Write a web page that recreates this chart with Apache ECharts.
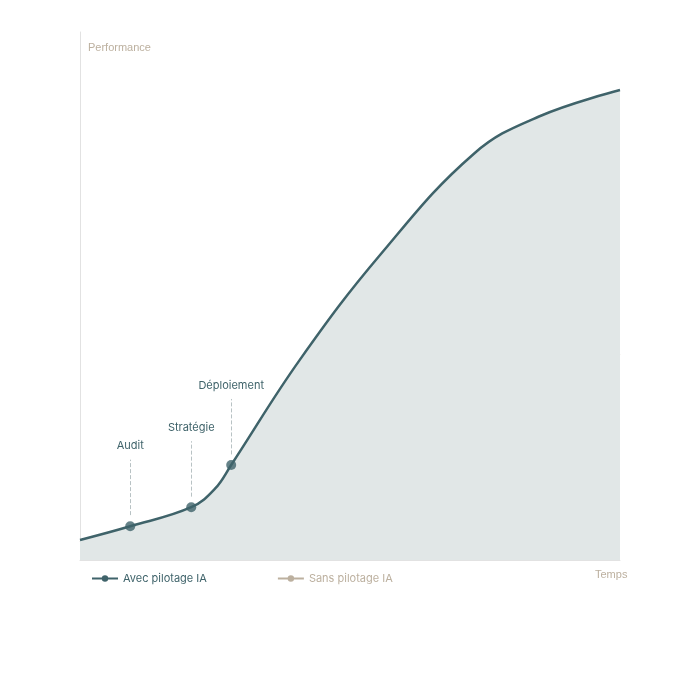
<!DOCTYPE html>
<html>
<head>
<meta charset="utf-8">
<script src="https://cdn.jsdelivr.net/npm/echarts@6/dist/echarts.min.js"></script>
<style>html,body{margin:0;background:#fff}#c{width:680px;height:680px}</style>
</head>
<body>
<div id="c"></div>
<script>
const avecX = [0, 9.3, 20.6, 25, 28, 40.7, 55.6, 73, 85, 100];
const avecY = [3.8, 6.4, 10, 13.5, 18, 37.9, 57.8, 77, 84, 89];
const sansX = [0, 9.3, 20.6, 40.7, 59, 74, 100];
const sansY = [3.4, 6, 9.8, 19.3, 26.5, 32, 39];
const milestones = ['Audit', 'Stratégie', 'Déploiement'];
const milestoneX = [9.3, 20.6, 28];
const milestoneY = [6.4, 10, 18];
const guideFrom = [8.5, 12, 20];
const guideTo = [19, 22.5, 30.5];

const dark = '#3f636a';
const sand = '#bcb09f';

const chart = echarts.init(document.getElementById('c'));
chart.setOption({
  animation: false,
  textStyle: { fontFamily: 'Inter, Roboto, sans-serif' },
  grid: { left: 80, right: 60, top: 32, bottom: 120 },
  xAxis: {
    type: 'value', min: 0, max: 100,
    axisLine: { lineStyle: { color: '#e2e2e2' } },
    axisTick: { show: false }, axisLabel: { show: false }, splitLine: { show: false }
  },
  yAxis: {
    type: 'value', min: 0, max: 100,
    axisLine: { show: true, lineStyle: { color: '#e2e2e2' } },
    axisTick: { show: false }, axisLabel: { show: false }, splitLine: { show: false }
  },
  legend: {
    left: 86, top: 568, itemGap: 70, itemWidth: 26, itemHeight: 8,
    textStyle: { fontSize: 11 },
    data: [
      { name: 'Avec pilotage IA', textStyle: { color: dark } },
      { name: 'Sans pilotage IA', textStyle: { color: sand } }
    ]
  },
  graphic: [
    { type: 'text', left: 88, top: 42, style: { text: 'Performance', fill: sand, fontSize: 11 } },
    { type: 'text', left: 595, top: 569, style: { text: 'Temps', fill: sand, fontSize: 11 } }
  ],
  series: [
    {
      name: 'Avec pilotage IA', type: 'line', smooth: 0.4, showSymbol: false,
      symbol: 'circle', symbolSize: 6,
      data: avecX.map((x, i) => [x, avecY[i]]),
      lineStyle: { color: dark, width: 2.5 }, itemStyle: { color: dark },
      areaStyle: { color: '#e1e7e7', opacity: 1 }, z: 2
    },
    {
      name: 'Sans pilotage IA', type: 'line', smooth: 0.4, showSymbol: false,
      symbol: 'circle', symbolSize: 6,
      data: sansX.map((x, i) => [x, sansY[i]]),
      lineStyle: { color: sand, width: 2 }, itemStyle: { color: sand },
      areaStyle: { color: '#dbdbda', opacity: 1 }, z: 1
    },
    {
      type: 'scatter', symbolSize: 10, z: 5,
      itemStyle: { color: dark },
      data: milestoneX.map((x, i) => [x, milestoneY[i]]),
      markLine: {
        symbol: 'none', silent: true,
        lineStyle: { color: '#b8c2c4', type: 'dashed', width: 1 },
        label: { show: true, position: 'end', color: dark, fontSize: 11, distance: 8 },
        data: milestones.map((m, i) => [
          { coord: [milestoneX[i], guideFrom[i]], name: m },
          { coord: [milestoneX[i], guideTo[i]] }
        ])
      }
    }
  ]
});
</script>
</body>
</html>
